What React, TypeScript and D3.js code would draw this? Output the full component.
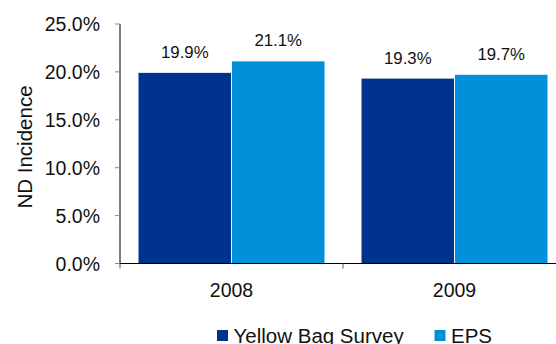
import React from "react";
import * as d3 from "d3";

const categories = ["2008", "2009"];
const seriesNames = ["Yellow Bag Survey", "EPS"];
const yellowBag = [19.9, 19.3];
const eps = [21.1, 19.7];
const yTicks = [0, 5, 10, 15, 20, 25];
const colors = ["#00338D", "#0091DA"];

const W = 556;
const H = 344;
const FONT = "'Liberation Sans', Arial, Helvetica, sans-serif";

export default function App() {
  const x0 = 120;
  const bandW = 223;
  const x = d3
    .scaleBand<string>()
    .domain(categories)
    .range([x0, x0 + bandW * categories.length])
    .paddingInner(0)
    .paddingOuter(0);
  const y = d3.scaleLinear().domain([0, 25]).range([263.5, 24]);
  const inner = d3
    .scaleBand<string>()
    .domain(seriesNames)
    .range([18.5, bandW - 18.5])
    .paddingInner(0.01);
  const series = [yellowBag, eps];
  const fmt = (v: number) => v.toFixed(1) + "%";

  return (
    <svg
      width={W}
      height={H}
      style={{ position: "absolute", left: 0, top: 0, background: "#fff" }}
      fontFamily={FONT}
    >
      {/* bars */}
      {categories.map((c, ci) =>
        seriesNames.map((s, si) => {
          const v = series[si][ci];
          const bx = (x(c) as number) + (inner(s) as number);
          return (
            <g key={c + s}>
              <rect
                x={bx}
                y={y(v)}
                width={inner.bandwidth()}
                height={y(0) - y(v)}
                fill={colors[si]}
              />
              <text
                x={bx + inner.bandwidth() / 2}
                y={y(v) - 15}
                textAnchor="middle"
                fontSize={16.8}
                fill="#111"
              >
                {fmt(v)}
              </text>
            </g>
          );
        })
      )}
      {/* y axis */}
      <line x1={x0} x2={x0} y1={y(25)} y2={y(0)} stroke="#000" strokeWidth={1} />
      {yTicks.map((t) => (
        <g key={t}>
          <line x1={x0 - 5} x2={x0} y1={y(t)} y2={y(t)} stroke="#888" strokeWidth={1} />
          <text
            x={100}
            y={y(t) + 7}
            textAnchor="end"
            fontSize={19.5}
            fill="#111"
          >
            {fmt(t)}
          </text>
        </g>
      ))}
      {/* x axis */}
      <line x1={x0} x2={W} y1={y(0)} y2={y(0)} stroke="#000" strokeWidth={1} />
      {categories.map((c) => (
        <g key={c}>
          <line
            x1={x(c) as number}
            x2={x(c) as number}
            y1={y(0)}
            y2={y(0) + 5}
            stroke="#555"
            strokeWidth={1}
          />
          <text
            x={(x(c) as number) + x.bandwidth() / 2}
            y={297}
            textAnchor="middle"
            fontSize={19.5}
            fill="#111"
          >
            {c}
          </text>
        </g>
      ))}
      {/* y title */}
      <text
        transform={`translate(32,147) rotate(-90)`}
        textAnchor="middle"
        fontSize={20.5}
        fill="#111"
      >
        ND Incidence
      </text>
      {/* legend */}
      {seriesNames.map((s, i) => {
        const lx = [217, 434.5][i];
        return (
          <g key={s}>
            <rect x={lx} y={330} width={11} height={11} fill={colors[i]} />
            <text x={lx + 16.5} y={342.5} fontSize={20.5} fill="#111">
              {s}
            </text>
          </g>
        );
      })}
    </svg>
  );
}
